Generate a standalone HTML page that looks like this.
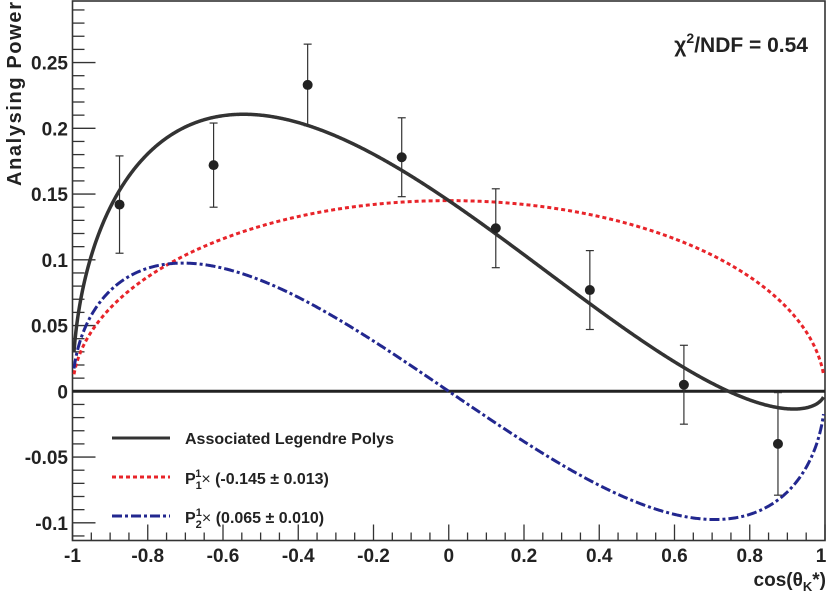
<!DOCTYPE html>
<html><head><meta charset="utf-8"><style>
body{margin:0;background:#fff;}
svg{display:block;font-family:"Liberation Sans",Arial,sans-serif;font-weight:bold;}
</style></head><body>
<svg id="c" width="830" height="594">
<rect x="72.5" y="1" width="752.5" height="539.5" fill="none" stroke="#333" stroke-width="1.6"/>
<g id="ticks"></g><g id="curves"></g><g id="pts"></g>
<text x="808" y="52" font-size="21" text-anchor="end" fill="#222">χ<tspan font-size="14" dy="-9">2</tspan><tspan dy="9">/NDF = 0.54</tspan></text>
<text transform="translate(21,186) rotate(-90)" font-size="20" fill="#222" textLength="184">Analysing Power</text>
<text x="826" y="586" font-size="19" text-anchor="end" fill="#222">cos(θ<tspan font-size="13" dy="5">K</tspan><tspan dy="-5">*)</tspan></text>
<g>
<line x1="112" y1="438" x2="170" y2="438" stroke="#333" stroke-width="3"/>
<text x="185" y="444" font-size="16" fill="#222">Associated Legendre Polys</text>
<line x1="112" y1="477" x2="170" y2="477" stroke="#e8242a" stroke-width="3" stroke-dasharray="4,3"/>
<text x="185" y="484" font-size="16" fill="#222">P<tspan font-size="11" dy="5">1</tspan><tspan font-size="11" dx="-6" dy="-12">1</tspan><tspan dy="7" font-weight="normal">×</tspan> (-0.145 ± 0.013)</text>
<line x1="112" y1="516" x2="170" y2="516" stroke="#22278f" stroke-width="3" stroke-dasharray="10,3,3,3"/>
<text x="185" y="523" font-size="16" fill="#222">P<tspan font-size="11" dy="5">2</tspan><tspan font-size="11" dx="-6" dy="-12">1</tspan><tspan dy="7" font-weight="normal">×</tspan> (0.065 ± 0.010)</text>
</g>
</svg>
<script>
const ptX=[-0.875,-0.625,-0.375,-0.125,0.125,0.375,0.625,0.875];
const ptY=[0.142,0.172,0.233,0.178,0.124,0.077,0.005,-0.040];
const ptErr=[0.037,0.032,0.031,0.030,0.030,0.030,0.030,0.039];
const coefP1=-0.145;
const coefP2=0.065;
const xTicks=[-1,-0.8,-0.6,-0.4,-0.2,0,0.2,0.4,0.6,0.8,1];
const yTicks=[-0.1,-0.05,0,0.05,0.1,0.15,0.2,0.25];
const NS='http://www.w3.org/2000/svg';
const X0=72.5,X1=825,Y0=391.3,K=1315;
const sx=v=>X0+(v+1)/2*(X1-X0);
const sy=v=>Y0-v*K;
function mk(t,a,p){const e=document.createElementNS(NS,t);for(const k in a)e.setAttribute(k,a[k]);p.appendChild(e);return e;}
const tg=document.getElementById('ticks');
for(let i=0;i<=40;i++){const v=-1+i*0.05;const maj=i%4==0;const l=mk('line',{x1:sx(v),x2:sx(v),y1:540.5,y2:540.5-(maj?16:8),stroke:'#333','stroke-width':1.3},tg);

}
for(let i=-13;i<=37;i++){const v=i*0.01;const y=sy(v);if(y<1||y>540)continue;const maj=i%5==0;const l=mk('line',{x1:72.5,x2:72.5+(maj?23:12),y1:y,y2:y,stroke:'#333','stroke-width':1.3},tg);

}
xTicks.forEach(v=>{const t=mk('text',{x:sx(v)+(v==1?-4:0),y:562,'font-size':19,'text-anchor':'middle',fill:'#222'},tg);t.textContent=String(v);

});
yTicks.forEach(v=>{const t=mk('text',{x:68,y:sy(v)+7,'font-size':19,'text-anchor':'end',fill:'#222'},tg);t.textContent=String(v);

});
const cg=document.getElementById('curves');
const z=mk('line',{x1:X0,x2:X1,y1:sy(0),y2:sy(0),stroke:'#222','stroke-width':3},cg);


const P1=x=>-Math.sqrt(Math.max(0,1-x*x));
const P2=x=>-3*x*Math.sqrt(Math.max(0,1-x*x));
function path(f){let d='';const a=-0.996,b=0.996;for(let i=0;i<=800;i++){const x=a+(b-a)*i/800;d+=(i?'L':'M')+sx(x).toFixed(2)+','+sy(f(x)).toFixed(2);}return d;}
const r=mk('path',{d:path(x=>coefP1*P1(x)),fill:'none',stroke:'#e8242a','stroke-width':3,'stroke-dasharray':'4,3'},cg);


const b=mk('path',{d:path(x=>coefP2*P2(x)),fill:'none',stroke:'#22278f','stroke-width':3,'stroke-dasharray':'10,3,3,3'},cg);


const tot=mk('path',{d:path(x=>coefP1*P1(x)+coefP2*P2(x)),fill:'none',stroke:'#333','stroke-width':3.5},cg);


const pg=document.getElementById('pts');
ptX.forEach((x,i)=>{const g=mk('g',{},pg);


const px=sx(x),y1=sy(ptY[i]+ptErr[i]),y2=sy(ptY[i]-ptErr[i]);
mk('line',{x1:px,x2:px,y1:y1,y2:y2,stroke:'#333','stroke-width':1.2},g);
mk('line',{x1:px-4,x2:px+4,y1:y1,y2:y1,stroke:'#333','stroke-width':1.2},g);
mk('line',{x1:px-4,x2:px+4,y1:y2,y2:y2,stroke:'#333','stroke-width':1.2},g);
mk('circle',{cx:px,cy:sy(ptY[i]),r:5,fill:'#222'},g);});
</script>
</body></html>
